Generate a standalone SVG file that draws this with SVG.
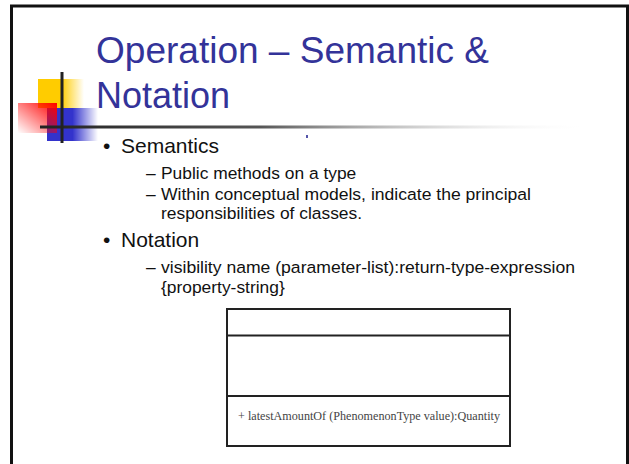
<svg xmlns="http://www.w3.org/2000/svg" width="629" height="464" viewBox="0 0 629 464">
  <style>
    .title { font-family: "Liberation Sans", Arial, sans-serif; font-size: 36px; fill: #333399; }
    .l1 { font-family: "Liberation Sans", Arial, sans-serif; font-size: 21px; fill: #111; }
    .l2 { font-family: "Liberation Sans", Arial, sans-serif; font-size: 17.4px; fill: #111; }
    .op { font-family: "Liberation Serif", "Times New Roman", serif; font-size: 11.5px; fill: #444; }
    .frame { stroke: #111; stroke-width: 3; fill: none; }
    .box { fill: #fff; stroke: #222; stroke-width: 2; }
  </style>
  <defs>
    <linearGradient id="gYellow" x1="0" y1="0" x2="1" y2="0">
      <stop offset="0" stop-color="#FFCC00"/>
      <stop offset="0.5" stop-color="#FFCC00"/>
      <stop offset="1" stop-color="#FFCC00" stop-opacity="0"/>
    </linearGradient>
    <linearGradient id="gBlue" x1="0" y1="0" x2="1" y2="0">
      <stop offset="0" stop-color="#3333CC"/>
      <stop offset="0.5" stop-color="#3333CC"/>
      <stop offset="1" stop-color="#3333CC" stop-opacity="0"/>
    </linearGradient>
    <linearGradient id="gRed" x1="1" y1="0" x2="0" y2="1">
      <stop offset="0" stop-color="#FF0000"/>
      <stop offset="1" stop-color="#FF0000" stop-opacity="0"/>
    </linearGradient>
    <linearGradient id="gRule" x1="0" y1="0" x2="1" y2="0">
      <stop offset="0" stop-color="#222"/>
      <stop offset="0.4" stop-color="#555"/>
      <stop offset="1" stop-color="#fff" stop-opacity="0"/>
    </linearGradient>
  </defs>

  <rect width="629" height="464" fill="#fff"/>

  <!-- slide frame -->
  <g id="frame">
    <line class="frame" x1="11.5" y1="464" x2="11.5" y2="6"/>
    <line class="frame" x1="10" y1="6" x2="629" y2="6"/>
    <line class="frame" x1="627.5" y1="6" x2="627.5" y2="464"/>
  </g>

  <!-- corner ornament -->
  <g id="ornament">
    <rect x="38" y="79" width="46" height="29" fill="url(#gYellow)"/>
    <rect x="47" y="108" width="51" height="33" fill="url(#gBlue)"/>
    <rect x="18" y="103" width="39" height="30" fill="url(#gRed)"/>
    <rect x="40" y="125.5" width="550" height="3" fill="url(#gRule)"/>
    <rect x="60.5" y="72" width="3" height="71" fill="#222"/>
    <rect x="306" y="135" width="2" height="3" fill="#5555aa"/>
  </g>

  <!-- title -->
  <g id="title">
    <text class="title" x="96" y="63" textLength="393" lengthAdjust="spacingAndGlyphs">Operation – Semantic &amp;</text>
    <text class="title" x="96" y="108">Notation</text>
  </g>

  <!-- bullet text -->
  <g id="body">
    <text class="l1" x="103" y="153">•</text>
    <text class="l1" x="121" y="153">Semantics</text>
    <text class="l2" x="146" y="179">–</text>
    <text class="l2" x="161" y="179">Public methods on a type</text>
    <text class="l2" x="146" y="199.5">–</text>
    <text class="l2" x="161" y="199.5" textLength="370" lengthAdjust="spacingAndGlyphs">Within conceptual models, indicate the principal</text>
    <text class="l2" x="161" y="219">responsibilities of classes.</text>
    <text class="l1" x="103" y="247">•</text>
    <text class="l1" x="121" y="247">Notation</text>
    <text class="l2" x="146" y="273">–</text>
    <text class="l2" x="161" y="273" textLength="414" lengthAdjust="spacingAndGlyphs">visibility name (parameter-list):return-type-expression</text>
    <text class="l2" x="161" y="293">{property-string}</text>
  </g>

  <!-- UML class box -->
  <g id="class-box">
    <rect class="box" x="227" y="309" width="283" height="137"/>
    <line class="box" x1="227" y1="335.5" x2="510" y2="335.5"/>
    <line class="box" x1="227" y1="396" x2="510" y2="396"/>
    <text class="op" x="238" y="420" textLength="262" lengthAdjust="spacingAndGlyphs">+ latestAmountOf (PhenomenonType value):Quantity</text>
  </g>
</svg>
